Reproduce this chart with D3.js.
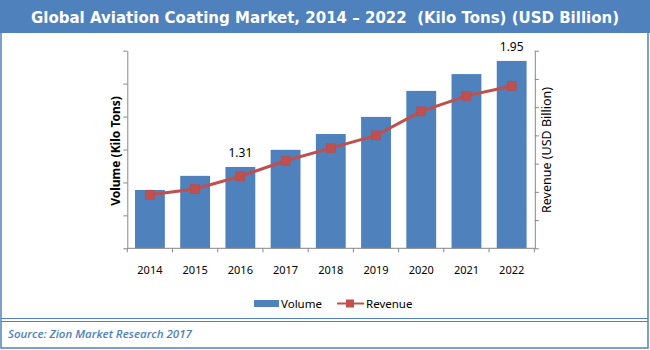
<!DOCTYPE html>
<html>
<head>
<meta charset="utf-8">
<script src="https://cdn.jsdelivr.net/npm/d3@7"></script>
<style>
  body { margin: 0; background: #fff; }
  svg { display: block; }
  .axis path, .axis line { stroke: #868686; }
  .ticklabel { font-family: "Noto Sans", sans-serif; font-size: 11px; fill: #000; }
</style>
</head>
<body>
<svg id="chart" width="650" height="350"></svg>
<script>
// values
const years = ["2014", "2015", "2016", "2017", "2018", "2019", "2020", "2021", "2022"];
const volume = [1.77, 2.20, 2.47, 2.99, 3.47, 3.99, 4.78, 5.29, 5.69];
const revenue = [1.18, 1.22, 1.31, 1.42, 1.51, 1.60, 1.77, 1.88, 1.95];
const volumeTicks = [0, 1, 2, 3, 4, 5, 6];
const revenueTicks = [0.8, 1.0, 1.2, 1.4, 1.6, 1.8, 2.0, 2.2];
const labelled = ["2016", "2022"];

const blue = "#4f81bd";
const red = "#c0504d";

let svg = d3.select("#chart");

// frame + title bar
svg.append("rect").attr("x", 1).attr("y", 1).attr("width", 647).attr("height", 347)
    .attr("fill", "#fff").attr("stroke", blue).attr("stroke-width", 1.5);
svg.append("rect").attr("x", 0).attr("y", 0).attr("width", 650).attr("height", 33).attr("fill", blue);
svg.append("text").attr("x", 325).attr("y", 23).attr("text-anchor", "middle")
    .attr("fill", "#fff").style("font-family", "DejaVu Sans, sans-serif")
    .style("font-weight", "bold").style("font-size", "15px").style("white-space", "pre")
    .text("Global Aviation Coating Market, 2014 \u2013 2022  (Kilo Tons) (USD Billion)");

// footer
svg.append("line").attr("x1", 1).attr("x2", 648).attr("y1", 318.5).attr("y2", 318.5)
    .attr("stroke", blue).attr("stroke-width", 1);
svg.append("line").attr("x1", 1).attr("x2", 648).attr("y1", 321.5).attr("y2", 321.5)
    .attr("stroke", blue).attr("stroke-width", 1);
svg.append("text").attr("x", 8).attr("y", 338).attr("fill", blue)
    .style("font-family", "Open Sans, sans-serif").style("font-style", "italic")
    .style("font-weight", "600").style("font-size", "11.5px")
    .text("Source: Zion Market Research 2017");

// scales
let x = d3.scaleBand().domain(years).range([127.3, 534.3]).paddingInner(0.34).paddingOuter(0.17);
let yL = d3.scaleLinear().domain([0, 6]).range([248.3, 50.7]);
let yR = d3.scaleLinear().domain([0.8, 2.2]).range([248.3, 50.7]);

// bars
svg.append("g").selectAll("rect").data(years).join("rect")
    .attr("x", d => x(d))
    .attr("y", (d, i) => yL(volume[i]))
    .attr("width", x.bandwidth())
    .attr("height", (d, i) => yL(0) - yL(volume[i]))
    .attr("fill", blue);

// left axis
svg.append("g").attr("class", "axis").attr("transform", "translate(127.3,0)")
    .call(d3.axisLeft(yL).tickValues(volumeTicks).tickFormat("").tickSize(4).tickSizeOuter(0));
// right axis
svg.append("g").attr("class", "axis").attr("transform", "translate(534.8,0)")
    .call(d3.axisRight(yR).tickValues(revenueTicks).tickFormat("").tickSize(4).tickSizeOuter(0));

// bottom axis: line, boundary ticks, labels
let xa = svg.append("g").attr("class", "axis");
xa.append("line").attr("x1", x.range()[0]).attr("x2", x.range()[1])
    .attr("y1", yL(0)).attr("y2", yL(0));
let bounds = years.map(d => x(d) - x.step() * x.paddingInner() / 2).concat([x.range()[1]]);
bounds[0] = x.range()[0];
xa.selectAll(".bt").data(bounds).join("line").attr("class", "bt")
    .attr("x1", d => d).attr("x2", d => d).attr("y1", yL(0)).attr("y2", yL(0) + 4);
svg.append("g").selectAll("text").data(years).join("text").attr("class", "ticklabel")
    .attr("x", d => x(d) + x.bandwidth() / 2).attr("y", 274).attr("text-anchor", "middle")
    .text(d => d);

// revenue line
let line = d3.line().x((d, i) => x(years[i]) + x.bandwidth() / 2).y(d => yR(d));
svg.append("path").attr("d", line(revenue)).attr("fill", "none")
    .attr("stroke", red).attr("stroke-width", 3);
svg.append("g").selectAll("rect").data(revenue).join("rect")
    .attr("x", (d, i) => x(years[i]) + x.bandwidth() / 2 - 4.5)
    .attr("y", d => yR(d) - 4.5)
    .attr("width", 9).attr("height", 9)
    .attr("fill", red).attr("stroke", "#b8474a").attr("stroke-width", 0.5);

// data labels
svg.append("g").selectAll("text").data(labelled).join("text")
    .attr("x", d => x(d) + x.bandwidth() / 2)
    .attr("y", d => d === "2022" ? 51 : 157)
    .attr("text-anchor", "middle")
    .style("font-family", "Noto Sans, sans-serif").style("font-size", "12px")
    .text(d => revenue[years.indexOf(d)].toFixed(2));

// axis titles
svg.append("text").attr("transform", "translate(120,151) rotate(-90)")
    .attr("text-anchor", "middle").style("font-family", "Noto Sans, sans-serif")
    .style("font-weight", "bold").style("font-size", "12px").text("Volume (Kilo Tons)");
svg.append("text").attr("transform", "translate(551,150) rotate(-90)")
    .attr("text-anchor", "middle").style("font-family", "Noto Sans, sans-serif")
    .style("font-size", "12.5px").text("Revenue (USD Billion)");

// legend
let lg = svg.append("g").attr("class", "legend");
lg.append("rect").attr("x", 254).attr("y", 300).attr("width", 25).attr("height", 7).attr("fill", blue);
lg.append("text").attr("x", 281).attr("y", 308).style("font-family", "Noto Sans, sans-serif")
    .style("font-size", "11.5px").text("Volume");
lg.append("line").attr("x1", 337).attr("x2", 364).attr("y1", 303.5).attr("y2", 303.5)
    .attr("stroke", red).attr("stroke-width", 2);
lg.append("rect").attr("x", 346).attr("y", 299.5).attr("width", 8).attr("height", 8).attr("fill", red);
lg.append("text").attr("x", 366).attr("y", 308).style("font-family", "Noto Sans, sans-serif")
    .style("font-size", "11.5px").text("Revenue");
</script>
</body>
</html>
